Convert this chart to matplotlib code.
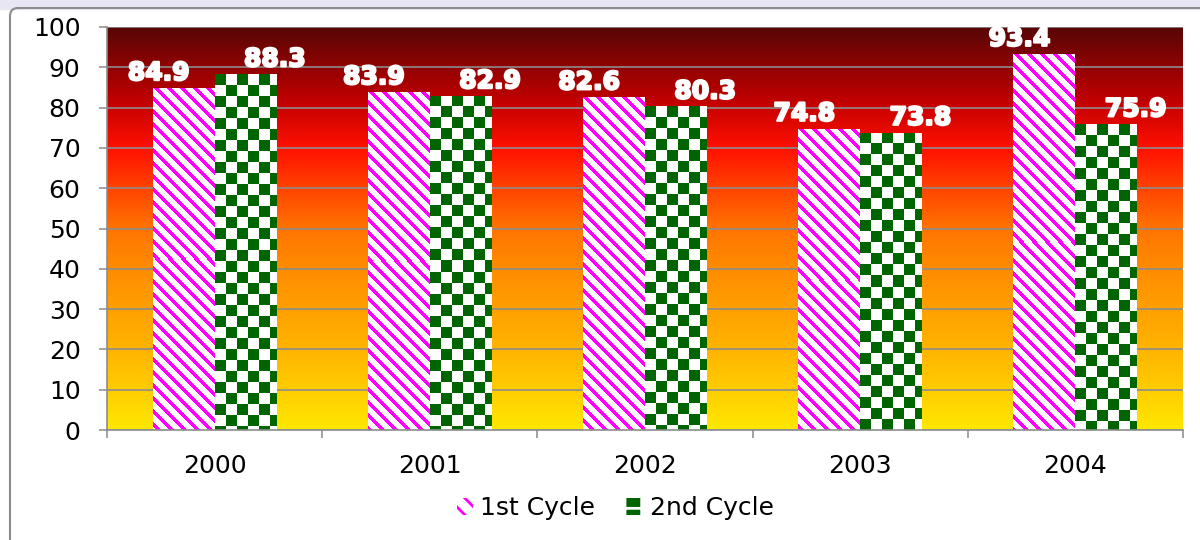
import numpy as np
import matplotlib
matplotlib.use("Agg")
import matplotlib.pyplot as plt
import matplotlib.patheffects as pe
from matplotlib.colors import LinearSegmentedColormap, to_rgb
from matplotlib.patches import Patch, FancyBboxPatch, Rectangle

YEARS = ["2000", "2001", "2002", "2003", "2004"]
FIRST_CYCLE = [84.9, 83.9, 82.6, 74.8, 93.4]
SECOND_CYCLE = [88.3, 82.9, 80.3, 73.8, 75.9]
SERIES_NAMES = ["1st Cycle", "2nd Cycle"]

MAGENTA = "#ff00ff"
GREEN = "#006400"
GRID = "#8c8c8c"
BAR_W = 0.288

plt.rcParams["hatch.linewidth"] = 2.0

# plot area gradient, top -> bottom
plot_cmap = LinearSegmentedColormap.from_list("plotbg", [
    (0.00, "#580606"), (0.18, "#c00000"), (0.30, "#ff1000"),
    (0.41, "#ff4800"), (0.50, "#ff7400"), (0.60, "#ff8c00"),
    (0.70, "#ffa000"), (0.80, "#ffb400"), (0.90, "#ffcc00"),
    (1.00, "#ffe800"),
], N=1024)
# outer chart gradient, top -> bottom
outer_cmap = LinearSegmentedColormap.from_list("outerbg", [
    (0.00, "#b84848"), (0.025, "#a00000"), (0.10, "#c80000"),
    (0.19, "#ff0000"), (0.27, "#ff2000"), (0.45, "#ff7000"),
    (0.65, "#ffa000"), (0.80, "#ffb800"), (1.00, "#ffe800"),
], N=1024)


def stripe_tex(h, w, period=13, band=5):
    r, c = np.mgrid[0:h, 0:w]
    img = np.ones((h, w, 3))
    img[((c - r) % period) < band] = to_rgb(MAGENTA)
    return img


def checker_tex(h, w, sq=11):
    r, c = np.mgrid[0:h, 0:w]
    img = np.ones((h, w, 3))
    img[((r // sq + c // sq) % 2) == 0] = to_rgb(GREEN)
    return img


def grad_rgb(cmap, rows):
    col = cmap(np.linspace(0, 1, rows))[:, :3]
    return col.reshape(rows, 1, 3)


fig = plt.figure(figsize=(12, 5.4), dpi=100)

# outer background
bg = fig.add_axes([0, 0, 1, 1], zorder=-5)
bg.axis("off")
bg.add_patch(Rectangle((0, 0), 1200, 540, color="white"))
bg.add_patch(Rectangle((0, 0), 1200, 9, color="#e8e6f2"))
im = bg.imshow(grad_rgb(outer_cmap, 532), extent=(10, 1200, 540, 8),
               aspect="auto", interpolation="nearest")
clip = FancyBboxPatch((10, 8), 1250, 600, boxstyle="round,pad=0,rounding_size=8",
                      transform=bg.transData, facecolor="none", edgecolor=GRID, lw=1.5)
bg.add_patch(clip)
im.set_clip_path(clip)
bg.set_xlim(0, 1200)
bg.set_ylim(540, 0)

ax = fig.add_axes([107 / 1200, 110 / 540, 1076 / 1200, 403 / 540])
ax.set_facecolor("none")
ax.set_xlim(-0.5, 4.5)
ax.set_ylim(0, 100)
ax.imshow(grad_rgb(plot_cmap, 403), extent=(-0.5, 4.5, 0, 100), aspect="auto",
          interpolation="nearest", zorder=-10)

x = np.arange(len(YEARS))
for vals, off, tex, dx in [
    (FIRST_CYCLE, -BAR_W / 2, stripe_tex, -18),
    (SECOND_CYCLE, BAR_W / 2, checker_tex, 21),
]:
    bars = ax.bar(x + off, vals, BAR_W, color="white", linewidth=0, zorder=2)
    for b, v in zip(bars, vals):
        x0 = b.get_x()
        p0 = ax.transData.transform((x0, 0))
        p1 = ax.transData.transform((x0 + BAR_W, v))
        w_px = max(1, int(round(p1[0] - p0[0])))
        h_px = max(1, int(round(p1[1] - p0[1])))
        t = ax.imshow(tex(h_px, w_px), extent=(x0, x0 + BAR_W, 0, v),
                      aspect="auto", interpolation="nearest", zorder=2.5)
        t.set_clip_path(b)
        ax.annotate(f"{v:.1f}", (x0 + BAR_W / 2, v), xytext=(dx, 2),
                    textcoords="offset points", ha="center", va="bottom",
                    fontsize=18, fontweight="bold", color="white", zorder=5,
                    path_effects=[pe.withStroke(linewidth=1.6, foreground="white")])

ax.set_xlim(-0.5, 4.5)
ax.set_ylim(0, 100)

ax.set_axisbelow(True)
ax.yaxis.grid(True, color=GRID, lw=1.2)
ax.set_yticks(range(0, 101, 10))
ax.tick_params(axis="y", length=6, width=1.1, color=GRID, labelsize=18, pad=13)
ax.set_xticks(x)
ax.set_xticklabels(YEARS)
ax.set_xticks(np.arange(-0.5, 5, 1), minor=True)
ax.tick_params(axis="x", which="major", length=0, labelsize=18, pad=17)
ax.tick_params(axis="x", which="minor", length=6, width=1.1, color=GRID)
for s in ["top", "right"]:
    ax.spines[s].set_visible(False)
for s in ["left", "bottom"]:
    ax.spines[s].set_color(GRID)
    ax.spines[s].set_linewidth(1.2)

handles = [
    Patch(facecolor="white", edgecolor=MAGENTA, hatch="\\\\", linewidth=0),
    Patch(facecolor=GREEN, edgecolor="white", hatch="+", linewidth=0),
]
fig.legend(handles, SERIES_NAMES, loc="center", bbox_to_anchor=(0.5125, 0.059),
           ncol=2, frameon=False, fontsize=18, handlelength=0.64,
           handleheight=0.64, handletextpad=0.32, columnspacing=1.2)

fig.savefig("out.png", dpi=100)
